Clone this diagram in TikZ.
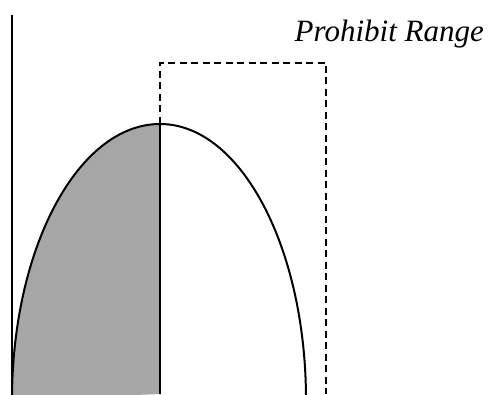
\documentclass[tikz,border=0pt]{standalone}
\usepackage{fontspec}
\setmainfont{Liberation Serif}
\usetikzlibrary{positioning}
\definecolor{halfgrey}{HTML}{A6A6A6}
\begin{document}
\begin{tikzpicture}[x=1pt, y=1pt,
    curve/.style={line width=2pt},
    guard/.style={line width=2pt, dash pattern=on 7pt off 4.5pt},
    rangetext/.style={font=\fontsize{31}{34}\selectfont\itshape, inner sep=0pt}
  ]
  \useasboundingbox (0,0) rectangle (489,394);
  \clip (0,0) rectangle (489,394);

  % -- shaded left half --
  \coordinate (apex) at (160,270);
  \coordinate (foot) at (160,0);
  \fill[halfgrey] (foot) -- (apex) arc[start angle=90, end angle=180, x radius=148, y radius=276] -- cycle;

  % -- envelope --
  \draw[curve] (12,-6) arc[start angle=180, end angle=90, x radius=148, y radius=276]
    arc[start angle=90, end angle=0, x radius=146, y radius=276];
  \draw[curve] (apex) -- (foot);

  % -- axis --
  \coordinate (axtop) at (12,379);
  \coordinate (axbot) at (12,0);
  \draw[curve] (axtop) -- (axbot);

  % -- prohibit range --
  \coordinate (pl) at (160,331);
  \coordinate (pr) at (326,331);
  \coordinate (pb) at (326,0);
  \draw[guard] (apex) -- (pl) -- (pr) -- (pb);

  \node[rangetext, anchor=base east] (prlab) at (484,352) {Prohibit Range};
\end{tikzpicture}
\end{document}
